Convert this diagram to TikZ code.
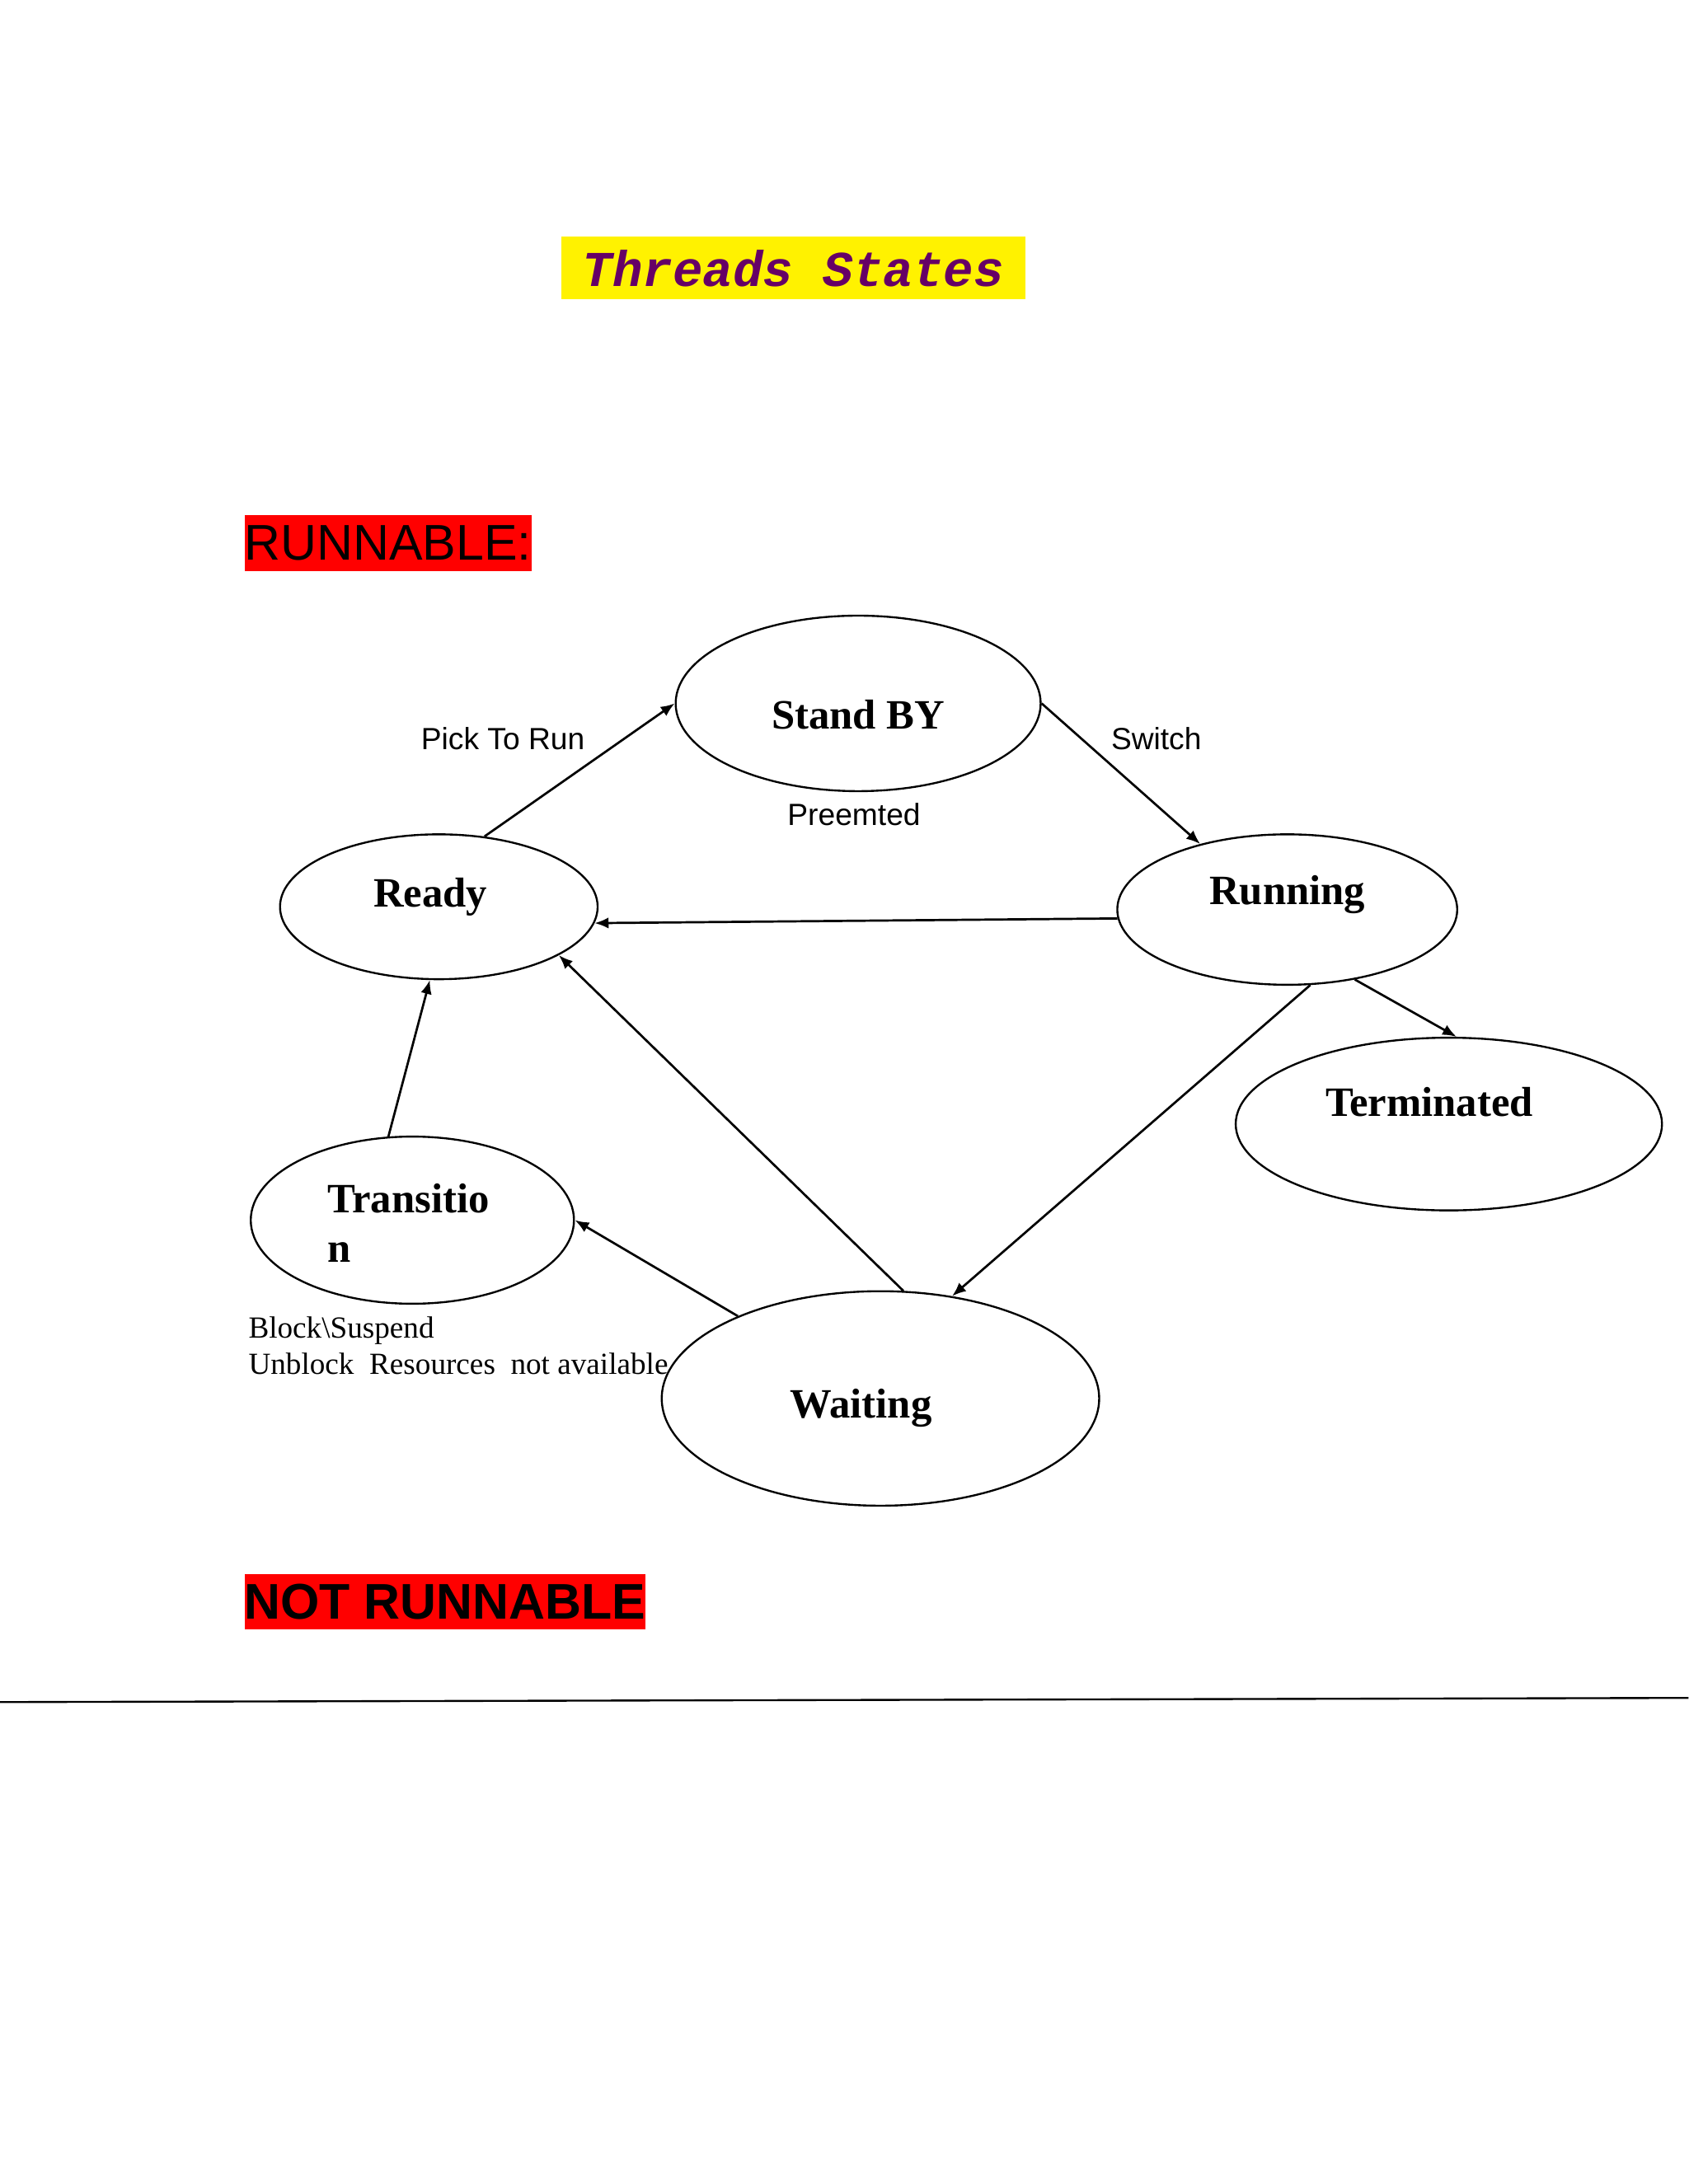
\documentclass[tikz,border=0pt]{standalone}
\usepackage{fontspec}
\setmainfont{Liberation Serif}
\setsansfont{Liberation Sans}
\setmonofont{Liberation Mono}
\usetikzlibrary{shapes.geometric,arrows.meta}
\begin{document}
\begin{tikzpicture}[x=0.5pt,y=-0.5pt,
  st/.style={draw,ellipse,inner sep=0pt,line width=0.7pt},
  lbl/.style={font=\fontsize{15}{18}\selectfont\bfseries},
  edge/.style={draw,line width=0.8pt,-{Latex[length=5pt,width=4pt]}},
  sm/.style={font=\sffamily\fontsize{11}{13}\selectfont}]
\useasboundingbox (0,0) rectangle (1212,1568);
\fill[white] (0,0) rectangle (1212,1568);
\node[fill=yellow,minimum width=166.5pt,minimum height=22.5pt,inner sep=0pt,text=violet!80!black,font=\ttfamily\bfseries\itshape\fontsize{18}{20}\selectfont] (title) at (569.5,192.5) {Threads States};
\node[fill=red,minimum width=100.5pt,minimum height=20pt,inner sep=0pt,font=\sffamily\fontsize{18}{20}\selectfont] (run) at (278.5,390) {RUNNABLE:};
\node[fill=red,minimum width=141.5pt,minimum height=20pt,inner sep=0pt,font=\sffamily\bfseries\fontsize{18}{20}\selectfont] (notrun) at (319.5,1150) {NOT RUNNABLE};
\node[st,minimum width=131pt,minimum height=63pt] (sb) at (616,505) {};
\node[st,minimum width=114pt,minimum height=52pt] (ready) at (315,651) {};
\node[st,minimum width=122pt,minimum height=54pt] (running) at (924,653) {};
\node[st,minimum width=153pt,minimum height=62pt] (term) at (1040,807) {};
\node[st,minimum width=116pt,minimum height=60pt] (trans) at (296,876) {};
\node[st,minimum width=157pt,minimum height=77pt] (wait) at (632,1004) {};
\node[lbl] (tsb) at (616,513) {Stand BY};
\node[lbl] (tready) at (309,644) {Ready};
\node[lbl] (trun) at (924,642) {Running};
\node[lbl] (tterm) at (1026,791) {Terminated};
\node[lbl,anchor=west,align=left] (ttrans) at (228,878) {Transitio\\n};
\node[lbl] (twait) at (618,1011) {Waiting};
\node[sm] (l1) at (361,530) {Pick To Run};
\node[sm] (l2) at (830,530) {Switch};
\node[sm] (l3) at (613,585) {Preemted};
\node[anchor=west,align=left,font=\fontsize{11}{13}\selectfont,inner sep=0pt] (l4) at (178,966) {Block\textbackslash Suspend\\Unblock\ \ Resources\ \ not available};
\draw[edge] (ready.57) -- (sb.180);
\draw[edge] (sb.0) -- (running.143);
\draw[edge] (running.183) -- (ready.354);
\draw[edge] (running.-46) -- (term.85);
\draw[edge] (running.-73) -- (wait.55);
\draw[edge] (wait.78) -- (ready.-22);
\draw[edge] (wait.150) -- (trans.0);
\draw[edge] (trans.106) -- (ready.-97);
\coordinate (la) at (0,1222); \coordinate (lb) at (1212,1219);
\draw[line width=0.7pt] (la) -- (lb);
\end{tikzpicture}
\end{document}
